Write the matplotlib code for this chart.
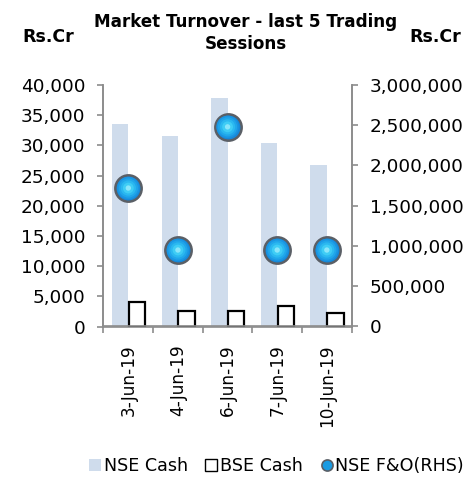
import matplotlib
matplotlib.use("Agg")
import matplotlib.pyplot as plt
from matplotlib.patches import Patch
from matplotlib.lines import Line2D
from matplotlib.ticker import FuncFormatter, FixedLocator
import numpy as np

dates = ["3-Jun-19", "4-Jun-19", "6-Jun-19", "7-Jun-19", "10-Jun-19"]
nse_cash = [33500, 31500, 37900, 30400, 26800]
bse_cash = [4000, 2650, 2650, 3400, 2200]
nse_fo = [1720000, 950000, 2480000, 950000, 950000]

plt.rcParams['font.family'] = ['DejaVu Sans']

fig = plt.figure(figsize=(4.7, 5.0), dpi=100)
ax = fig.add_axes([0.2202, 0.347, 0.528, 0.483])
ax2 = ax.twinx()

x = np.arange(len(dates))
w = 0.33
ax.bar(x - w / 2, nse_cash, width=w, color="#cfdcec", zorder=2)
ax.bar(x + w / 2 + 0.01, bse_cash, width=w, facecolor="white", edgecolor="black", linewidth=1.6, zorder=3)

# gradient-like bubble markers
layers = [(260, "#1a95e2"), (190, "#20a6ea"), (120, "#2bb8f0"), (60, "#3fcdf5"), (15, "#8ae6fb")]
ax2.scatter(x, nse_fo, s=360, facecolor="#1687d8", edgecolor="#5a5f66", linewidth=1.8, zorder=5)
for s, c in layers:
    ax2.scatter(x, nse_fo, s=s, facecolor=c, edgecolor="none", zorder=6)

ax.set_xlim(-0.5, len(dates) - 0.5)
ax.set_ylim(0, 40000)
ax2.set_ylim(0, 3000000)
ax.set_yticks(np.arange(0, 40001, 5000))
ax2.set_yticks(np.arange(0, 3000001, 500000))
fmt = FuncFormatter(lambda v, p: f"{int(v):,}")
ax.yaxis.set_major_formatter(fmt)
ax2.yaxis.set_major_formatter(fmt)

TS = 13.3
ax.set_xticks(x)
ax.set_xticklabels(dates, rotation=90, fontsize=12.2)
ax.tick_params(axis='x', which='major', length=0, pad=13)
ax.xaxis.set_minor_locator(FixedLocator(np.arange(-0.5, len(dates), 1.0)))
ax.tick_params(axis='x', which='minor', length=4, color="#8c8c8c", width=1.2)

gray = "#8c8c8c"
for a in (ax, ax2):
    a.spines['top'].set_visible(False)
    for sp in ('left', 'right', 'bottom'):
        a.spines[sp].set_color(gray)
        a.spines[sp].set_linewidth(1.2)
ax.tick_params(axis='y', length=4, color=gray, width=1.2, labelsize=TS, pad=9)
ax2.tick_params(axis='y', length=4, color=gray, width=1.2, labelsize=TS, pad=9)

fig.text(0.522, 0.934, "Market Turnover - last 5 Trading\nSessions", ha="center", va="center",
         fontsize=12.1, fontweight="bold", linespacing=1.3)
fig.text(0.047, 0.925, "Rs.Cr", ha="left", va="center", fontsize=12.5, fontweight="bold")
fig.text(0.872, 0.925, "Rs.Cr", ha="left", va="center", fontsize=12.5, fontweight="bold")

handles = [
    Patch(facecolor="#cfdcec", edgecolor="none", label="NSE Cash"),
    Patch(facecolor="white", edgecolor="black", linewidth=1.0, label="BSE Cash"),
    Line2D([], [], marker="o", linestyle="none", markersize=8, markerfacecolor="#1a9be2",
           markeredgecolor="#5a5f66", markeredgewidth=1.2, label="NSE F&O(RHS)"),
]
fig.legend(handles=handles, loc="center", bbox_to_anchor=(0.588, 0.068), ncol=3, frameon=False,
           fontsize=12.6, handlelength=0.7, handleheight=0.7, handletextpad=0.15, columnspacing=1.0)

fig.savefig("out.png", dpi=100)
